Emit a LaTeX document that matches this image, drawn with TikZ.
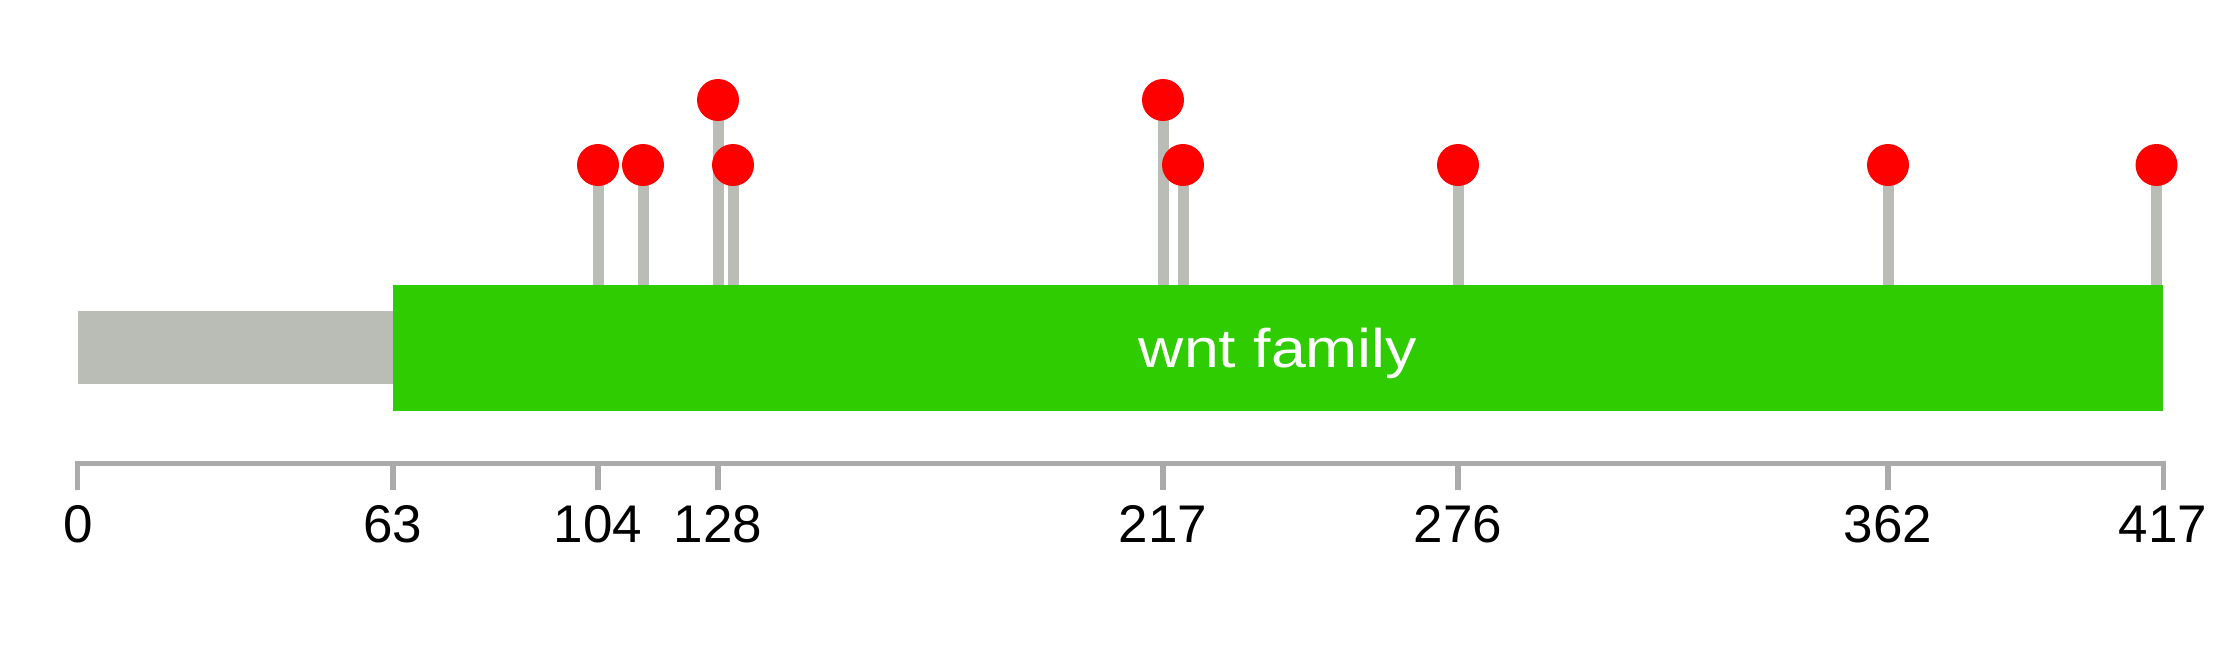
\documentclass[tikz,border=0pt]{standalone}
\usepackage{fontspec}
\setmainfont{Liberation Sans}
\newfontfamily\beschrift[FakeStretch=1.15]{Liberation Sans}

\definecolor{domgruen}{HTML}{2ECC00}
\definecolor{grauband}{HTML}{BABDB6}
\definecolor{achsgrau}{HTML}{AAAAAA}

\tikzset{
  kopf/.style={circle, fill=red, inner sep=0pt, minimum size=21pt},
  stiel/.style={grauband, line width=5.5pt},
  achse/.style={achsgrau, line width=2.5pt, line join=miter},
  strich/.style={achsgrau, line width=3pt},
  zahl/.style={anchor=base, inner sep=0pt, font=\fontsize{26.5}{28}\selectfont},
  domtext/.style={anchor=base, inner sep=0pt, white, font=\beschrift\fontsize{27.2}{30}\selectfont},
}

\begin{document}
\begin{tikzpicture}[x=2.5pt, y=-0.5pt]
  \useasboundingbox (-15.6,0) rectangle (432.2,645);

  % Stiele
  \foreach \pos/\h [count=\i] in {104/165, 113/165, 128/100, 131/165, 217/100, 221/165, 276/165, 362/165, 415.7/165} {
    \coordinate (fuss\i) at (\pos,285);
    \coordinate (spitze\i) at (\pos,\h);
    \draw[stiel] (fuss\i) -- (spitze\i);
  }

  % Protein und Domaene
  \fill[grauband] (0,311) rectangle (417,384);
  \fill[domgruen] (63,285) rectangle (417,411);
  \node[domtext] (wnt) at (240,367) {wnt family};

  % Mutationen
  \foreach \i in {1,...,9}
    \node[kopf] (k\i) at (spitze\i) {};

  % Achse
  \draw[achse] (0,490) -- (0,463) -- (417,463) -- (417,490);
  \foreach \t in {63,104,128,217,276,362}
    \draw[strich] (\t,463) -- (\t,490);

  % Beschriftung
  \foreach \t in {0,63,104,128,217,276,362,417}
    \node[zahl] (z\t) at (\t,542) {\t};
\end{tikzpicture}
\end{document}
